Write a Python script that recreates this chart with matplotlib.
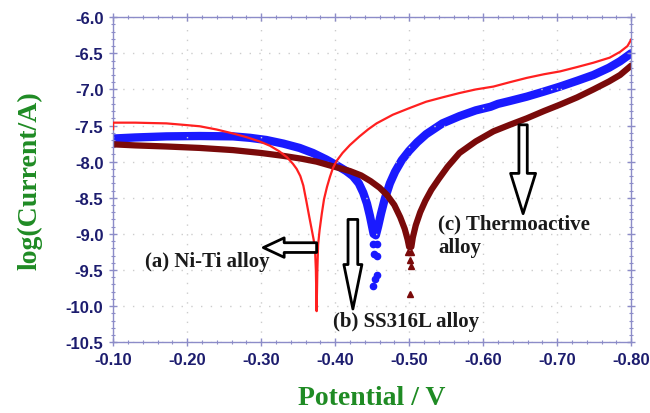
import matplotlib
matplotlib.use("Agg")
import matplotlib.pyplot as plt
from matplotlib.ticker import MultipleLocator, FormatStrFormatter

# ---------------- data ----------------
red_x = [-0.100, -0.100, -0.110, -0.130, -0.150, -0.172, -0.195, -0.217, -0.240, -0.262,
         -0.280, -0.298, -0.312, -0.325, -0.335, -0.343, -0.348, -0.353, -0.357, -0.361,
         -0.365, -0.368, -0.371, -0.373, -0.374, -0.375, -0.376, -0.377, -0.379, -0.382,
         -0.385, -0.389, -0.393, -0.397, -0.402, -0.410, -0.420, -0.433, -0.445, -0.456,
         -0.467, -0.478, -0.500, -0.523, -0.545, -0.568, -0.590, -0.614, -0.636, -0.659,
         -0.682, -0.704, -0.727, -0.749, -0.771, -0.785, -0.795, -0.800]
red_y = [-7.55, -7.46, -7.46, -7.46, -7.465, -7.47, -7.49, -7.51, -7.555, -7.61,
         -7.66, -7.72, -7.78, -7.86, -7.94, -8.03, -8.10, -8.20, -8.33, -8.54,
         -8.76, -8.92, -9.08, -9.25, -9.50, -10.07, -9.50, -9.15, -8.95, -8.72,
         -8.52, -8.35, -8.21, -8.09, -7.99, -7.88, -7.77, -7.65, -7.55, -7.47,
         -7.41, -7.35, -7.26, -7.17, -7.11, -7.05, -7.00, -6.96, -6.90, -6.84,
         -6.79, -6.75, -6.69, -6.63, -6.56, -6.48, -6.40, -6.31]

blue_x = [-0.100, -0.130, -0.172, -0.217, -0.262, -0.285, -0.307, -0.330, -0.352, -0.370,
          -0.388, -0.402, -0.415, -0.424, -0.432, -0.438, -0.443, -0.447, -0.450, -0.452,
          -0.455, -0.458, -0.462, -0.467, -0.474, -0.481, -0.490, -0.500, -0.511, -0.523,
          -0.545, -0.568, -0.590, -0.610, -0.620, -0.636, -0.659, -0.682, -0.704, -0.727,
          -0.749, -0.770, -0.785, -0.800]
blue_y = [-7.68, -7.665, -7.65, -7.645, -7.65, -7.67, -7.70, -7.75, -7.81, -7.88,
          -7.97, -8.05, -8.13, -8.20, -8.30, -8.43, -8.58, -8.75, -8.90, -9.00,
          -9.02, -8.90, -8.72, -8.52, -8.30, -8.14, -7.98, -7.85, -7.73, -7.62,
          -7.47, -7.37, -7.29, -7.24, -7.20, -7.16, -7.10, -7.03, -6.96, -6.88,
          -6.80, -6.70, -6.61, -6.50]
blue_dots_x = [-0.451, -0.457, -0.453, -0.457, -0.457, -0.454, -0.451]
blue_dots_y = [-9.14, -9.14, -9.28, -9.30, -9.57, -9.62, -9.72]

brown_x = [-0.100, -0.130, -0.172, -0.217, -0.262, -0.300, -0.330, -0.355, -0.375, -0.392,
           -0.406, -0.420, -0.435, -0.448, -0.460, -0.470, -0.480, -0.488, -0.494, -0.498,
           -0.500, -0.503, -0.505, -0.509, -0.515, -0.522, -0.530, -0.540, -0.552, -0.568,
           -0.590, -0.614, -0.636, -0.659, -0.682, -0.704, -0.727, -0.749, -0.770, -0.785,
           -0.800]
brown_y = [-7.76, -7.775, -7.79, -7.81, -7.84, -7.88, -7.92, -7.96, -8.00, -8.05,
           -8.09, -8.13, -8.19, -8.27, -8.36, -8.46, -8.60, -8.77, -8.93, -9.08,
           -9.18, -9.18, -9.05, -8.88, -8.70, -8.54, -8.39, -8.24, -8.07, -7.88,
           -7.72, -7.58, -7.49, -7.40, -7.30, -7.21, -7.11, -7.00, -6.89, -6.80,
           -6.67]
brown_tri_x = [-0.499, -0.503, -0.501, -0.503, -0.501]
brown_tri_y = [-9.25, -9.25, -9.36, -9.44, -9.83]

x_ticks = [-0.10, -0.20, -0.30, -0.40, -0.50, -0.60, -0.70, -0.80]
y_ticks = [-6.0, -6.5, -7.0, -7.5, -8.0, -8.5, -9.0, -9.5, -10.0, -10.5]

labels = ["(a) Ni-Ti alloy", "(b) SS316L alloy", "(c) Thermoactive\nalloy"]
label_x = [-0.143, -0.397, -0.539]
label_y = [-9.37, -10.20, -9.02]

# arrows: (tail x, tail y, tip x, tip y)
arrow_a = (-0.375, -9.19, -0.303, -9.19)
arrow_b = (-0.424, -8.80, -0.424, -10.04)
arrow_c = (-0.654, -7.49, -0.654, -8.72)

# ---------------- figure ----------------
fig = plt.figure(figsize=(6.5, 4.14), dpi=100)
ax = fig.add_axes([0.174, 0.171, 0.797, 0.785])

RED = "#ff2020"
BLUE = "#1a1aff"
BROWN = "#7a0a0a"

ax.plot(red_x, red_y, color=RED, lw=1.6, solid_joinstyle="round", zorder=3)
ax.plot(brown_x, brown_y, color=BROWN, lw=4.5, solid_capstyle="round",
        solid_joinstyle="round", zorder=2)
ax.plot(brown_tri_x, brown_tri_y, ls="none", marker="^", ms=4.5, color=BROWN, zorder=2)
ax.plot(blue_x, blue_y, color=BLUE, lw=6, solid_capstyle="round",
        solid_joinstyle="round", zorder=1)
ax.plot(blue_dots_x, blue_dots_y, ls="none", marker="o", ms=4.5, color=BLUE, zorder=1)

ax.set_xlim(-0.10, -0.80)
ax.set_ylim(-10.5, -6.0)
ax.set_xticks(x_ticks)
ax.set_yticks(y_ticks)
ax.xaxis.set_major_formatter(FormatStrFormatter("%.2f"))
ax.yaxis.set_major_formatter(FormatStrFormatter("%.1f"))
ax.xaxis.set_minor_locator(MultipleLocator(0.02))
ax.yaxis.set_minor_locator(MultipleLocator(0.1))

frame_col = "#8c8cc8"
for s in ax.spines.values():
    s.set_color(frame_col)
    s.set_linewidth(1.0)
ax.tick_params(which="both", direction="inout", colors=frame_col, top=True, right=True)
ax.tick_params(which="major", length=6, width=1.0)
ax.tick_params(which="minor", length=3.5, width=0.8)
ax.tick_params(axis="both", which="major", labelcolor="#1c1c6e", labelsize=12, pad=4)
for lab in ax.get_xticklabels() + ax.get_yticklabels():
    lab.set_fontweight("bold")
    lab.set_family("Liberation Sans")

ax.grid(True, which="major", color="#cccccc", linestyle=(0, (1, 6)), linewidth=1.0)

green = "#1f8b24"
ax.set_xlabel("Potential / V", family="Liberation Serif", fontweight="bold",
              fontsize=20, color=green, labelpad=13)
ax.set_ylabel("log(Current/A)", family="Liberation Serif", fontweight="bold",
              fontsize=20, color=green, labelpad=17)

for t, tx, ty in zip(labels, label_x, label_y):
    ax.text(tx, ty, t, family="Liberation Serif", fontweight="bold", fontsize=15,
            color="#1a1a1a", ha="left", va="center", linespacing=1.2, zorder=5)

def block_arrow(a, hl, hw, tw):
    ax.annotate("", xy=(a[2], a[3]), xytext=(a[0], a[1]),
                arrowprops=dict(arrowstyle=f"simple,head_length={hl},head_width={hw},tail_width={tw}",
                                mutation_scale=1, fc="white", ec="black", lw=2.0,
                                shrinkA=0, shrinkB=0), zorder=6)

block_arrow(arrow_a, 15, 14, 7)
block_arrow(arrow_b, 32, 13, 7)
block_arrow(arrow_c, 29, 18, 6)

fig.savefig("out.png", dpi=100)
